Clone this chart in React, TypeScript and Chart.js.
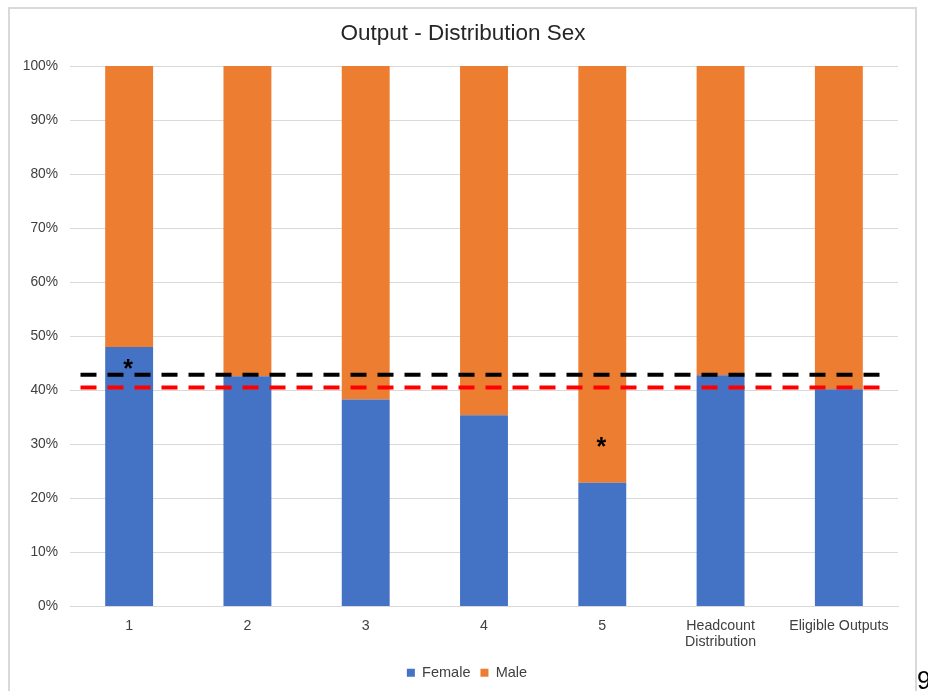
import React, { useEffect, useRef } from "react";
import { Chart, registerables } from "chart.js";

Chart.register(...registerables);

const categories: (string | string[])[] = ["1", "2", "3", "4", "5", ["Headcount", "Distribution"], "Eligible Outputs"];
const femaleValues = [48.0, 42.6, 38.3, 35.4, 22.9, 42.8, 40.2];
const maleValues = femaleValues.map((v) => 100 - v);
const yTicks = [0, 10, 20, 30, 40, 50, 60, 70, 80, 90, 100];

const refLineValues = [42.9, 40.5];
const refLineColors = ["#000000", "#FF0000"];

const starCategoryIndex = [0, 4];
const starValues = [45.0, 30.6];

const FONT = "'Liberation Sans', Arial, sans-serif";

const overlayPlugin = {
  id: "overlay",
  afterLayout(chart: any) {
    // centre title and legend on the whole canvas rather than the padded box
    const tb = chart.titleBlock;
    if (tb) {
      tb.left += 14;
      tb.right += 14;
    }
    const lg = chart.legend;
    if (lg) {
      lg.left += 18;
      lg.right += 18;
    }
  },
  afterDatasetsDraw(chart: any) {
    const { ctx, chartArea, scales } = chart;
    const y = scales.y;
    const x = scales.x;
    ctx.save();
    refLineValues.forEach((v, i) => {
      const py = y.getPixelForValue(v);
      ctx.beginPath();
      ctx.setLineDash([16, 11]);
      ctx.lineWidth = 4;
      ctx.strokeStyle = refLineColors[i];
      ctx.moveTo(chartArea.left + 10.5, py);
      ctx.lineTo(chartArea.right - 15.5, py);
      ctx.stroke();
    });
    ctx.setLineDash([]);
    ctx.fillStyle = "#000000";
    ctx.font = `bold 25px ${FONT}`;
    ctx.textAlign = "center";
    ctx.textBaseline = "alphabetic";
    starCategoryIndex.forEach((ci, i) => {
      const px = x.getPixelForValue(ci);
      const py = y.getPixelForValue(starValues[i]);
      ctx.fillText("*", px - 1, py + 14);
    });
    ctx.restore();
  },
};

export default function App() {
  const canvasRef = useRef<HTMLCanvasElement | null>(null);

  useEffect(() => {
    if (!canvasRef.current) return;
    const chart = new Chart(canvasRef.current, {
      type: "bar",
      data: {
        labels: categories as any,
        datasets: [
          {
            label: "Female",
            data: femaleValues,
            backgroundColor: "#4472C4",
            barPercentage: 0.405,
            categoryPercentage: 1,
          },
          {
            label: "Male",
            data: maleValues,
            backgroundColor: "#ED7D31",
            barPercentage: 0.405,
            categoryPercentage: 1,
          },
        ],
      },
      options: {
        animation: false,
        responsive: false,
        maintainAspectRatio: false,
        layout: { padding: { top: 0, right: 30, bottom: 1, left: 0 } },
        plugins: {
          title: {
            display: true,
            text: "Output - Distribution Sex",
            color: "#262626",
            font: { family: FONT, size: 22.5, weight: "normal" },
            padding: { top: 20, bottom: 19 },
          },
          legend: {
            position: "bottom",
            labels: {
              color: "#404040",
              font: { family: FONT, size: 14.5 },
              boxWidth: 8,
              boxHeight: 8,
              padding: 10,
            },
          },
          tooltip: { enabled: false },
        },
        scales: {
          x: {
            stacked: true,
            grid: { display: false, drawTicks: false },
            border: { display: true, color: "#D9D9D9", width: 1 },
            ticks: {
              color: "#404040",
              font: { family: FONT, size: 14.2, lineHeight: 1.15 },
              padding: 11,
              maxRotation: 0,
              autoSkip: false,
            },
            afterFit(scale: any) {
              scale.height = 49;
            },
          },
          y: {
            stacked: true,
            min: 0,
            max: 100,
            grid: { color: "#D9D9D9", drawTicks: false, lineWidth: 1 },
            border: { display: false },
            afterBuildTicks(scale: any) {
              scale.ticks = yTicks.map((v) => ({ value: v }));
            },
            ticks: {
              color: "#404040",
              font: { family: FONT, size: 13.8 },
              padding: 12,
              callback: (v: any) => `${v}%`,
            },
            afterFit(scale: any) {
              scale.width = 70;
            },
          },
        },
      },
      plugins: [overlayPlugin],
    });
    return () => chart.destroy();
  }, []);

  return (
    <div style={{ position: "fixed", left: 0, top: 0, width: 928, height: 691, overflow: "hidden", background: "#fff" }}>
      <canvas ref={canvasRef} width={928} height={691} style={{ position: "absolute", left: 0, top: 0, width: 928, height: 691 }} />
      <div
        style={{
          position: "absolute",
          left: 8,
          top: 7,
          width: 905,
          height: 700,
          borderLeft: "2px solid #D9D9D9",
          borderTop: "2px solid #D9D9D9",
          borderRight: "2px solid #D9D9D9",
          pointerEvents: "none",
        }}
      />
      <div
        style={{
          position: "absolute",
          left: 917,
          top: 668,
          fontFamily: FONT,
          fontSize: 25,
          lineHeight: "25px",
          color: "#000",
        }}
      >
        9
      </div>
    </div>
  );
}
